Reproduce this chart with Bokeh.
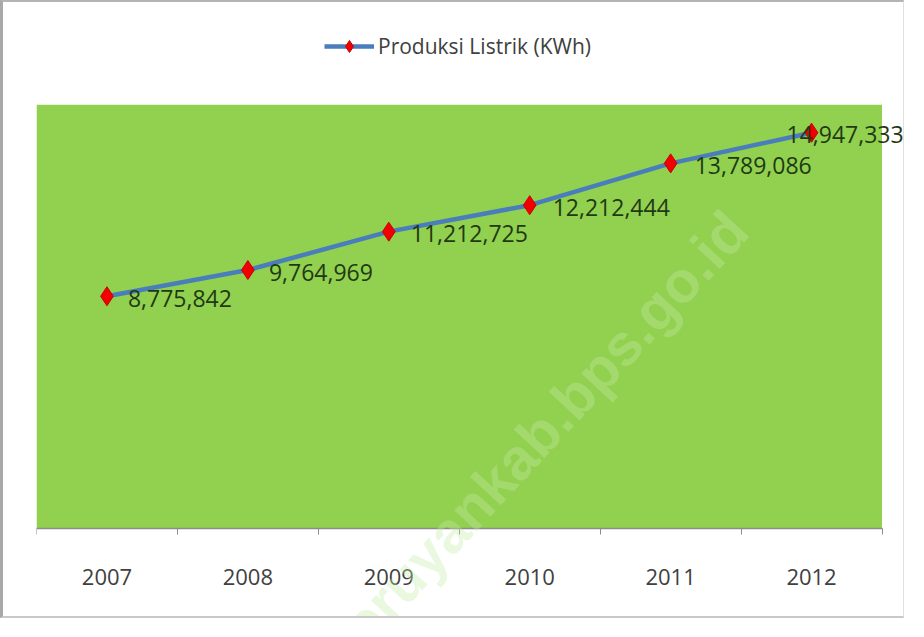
from bokeh.plotting import figure
from bokeh.models import (ColumnDataSource, Range1d, FixedTicker, LabelSet, Label,
                          Legend, LegendItem, BoxAnnotation)
from bokeh.core.properties import value
from bokeh.embed import file_html
from bokeh.resources import INLINE

years = ["2007", "2008", "2009", "2010", "2011", "2012"]
produksi = [8775842, 9764969, 11212725, 12212444, 13789086, 14947333]
series_name = "Produksi Listrik (KWh)"
watermark = "seruyankab.bps.go.id"
y_max = 16_000_000

xpos = [i + 0.5 for i in range(len(years))]
label_text = [f"{v:,}" for v in produksi]
label_dx = [21, 21, 22, 23, 24, -25]

src = ColumnDataSource(dict(x=xpos, y=produksi, txt=label_text, dx=label_dx))

FONT = "Open Sans"
W, H = 904, 618
LEFT = 33
GREEN_W, GREEN_H = 845.5, 424.0
GREEN_BOTTOM = 526.3          # canvas px of the plot-area bottom
frame_w = W - LEFT
n = len(years)
y_per_px = y_max / GREEN_H

p = figure(width=W, height=H, output_backend="svg", toolbar_location=None,
           x_range=Range1d(0, n * frame_w / GREEN_W),
           y_range=Range1d(-(H - GREEN_BOTTOM) * y_per_px, GREEN_BOTTOM * y_per_px),
           min_border_left=LEFT, min_border_right=0, min_border_top=0,
           min_border_bottom=0)
p.background_fill_color = "white"
p.border_fill_color = "white"
p.outline_line_color = None
p.grid.visible = False
p.yaxis.visible = False

green = BoxAnnotation(left=0, right=n, bottom=0, top=y_max, fill_color="#92d050",
                      fill_alpha=1, line_color=None, level="underlay")
p.add_layout(green)

ax = p.xaxis[0]
ax.fixed_location = 0
ax.bounds = (0, n)
ax.ticker = FixedTicker(ticks=xpos, minor_ticks=list(range(n + 1)))
ax.major_label_overrides = {x: y for x, y in zip(xpos, years)}
ax.major_tick_line_color = None
ax.minor_tick_line_color = "#8c8c8c"
ax.minor_tick_out = 6
ax.minor_tick_in = 0
ax.axis_line_color = "#8c8c8c"
ax.axis_line_width = 1.5
ax.major_label_text_font = FONT
ax.major_label_text_font_size = "22px"
ax.major_label_text_color = "#404040"
ax.major_label_standoff = 34

wm = Label(x=4.97, y=11_650_000, text=watermark, angle=0.824,
           text_align="right", text_baseline="middle",
           text_font="Liberation Sans", text_font_style="bold",
           text_font_size="58px", text_color="#c4eaa4", text_alpha=0.35)
p.add_layout(wm)

line = p.line("x", "y", source=src, line_color="#4a7dbb", line_width=4.5)
pts = p.scatter("x", "y", source=src, marker="diamond", size=19,
                fill_color="#f00000", line_color="#c80000", line_width=1)

labels = LabelSet(x="x", y="y", text="txt", source=src, x_offset="dx", y_offset=-2,
                  text_align="left", text_baseline="middle",
                  text_font=value(FONT), text_font_size=value("23px"),
                  text_color="#1f3a12")
p.add_layout(labels)

legend = Legend(items=[LegendItem(label=series_name, renderers=[line, pts])],
                location=(288, 467 + (H - GREEN_BOTTOM) - 92 + 92), orientation="horizontal",
                glyph_width=50, glyph_height=30, label_standoff=4,
                padding=0, margin=0, border_line_color=None,
                background_fill_alpha=0,
                label_text_font=FONT, label_text_font_size="21px",
                label_text_color="#404040")
p.add_layout(legend)

p.styles = {"border-top": "2px solid #b4b4b4", "border-left": "3px solid #a8a8a8",
            "border-bottom": "2px solid #c8c8c8", "border-right": "1px solid #e0e0e0"}

open("out.html", "w").write(file_html(p, INLINE))
